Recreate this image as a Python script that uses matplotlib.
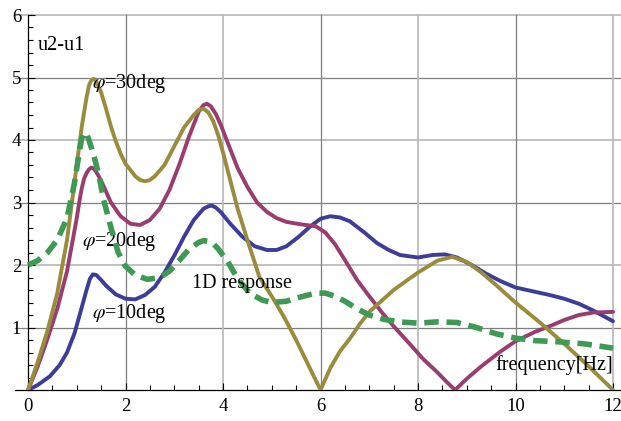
import numpy as np
import matplotlib.pyplot as plt

plt.rcParams['font.family'] = ['Liberation Serif', 'DejaVu Serif']
plt.rcParams['mathtext.fontset'] = 'stix'

# phi = 10 deg
f10 = [0, 0.2, 0.45, 0.65, 0.8, 0.95, 1.07, 1.2, 1.27, 1.33, 1.4, 1.5, 1.6, 1.8, 2.0, 2.2, 2.4,
       2.6, 2.8, 3.0, 3.2, 3.4, 3.6, 3.7, 3.77, 3.85, 3.95, 4.15, 4.4, 4.65, 4.9, 5.1, 5.3, 5.55,
       5.78, 6.0, 6.2, 6.4, 6.6, 6.9, 7.16, 7.4, 7.63, 8.0, 8.3, 8.55, 8.8, 9.1, 9.4, 9.7, 10.0,
       10.35, 10.7, 11.0, 11.3, 11.6, 12.0]
u10 = [0, 0.08, 0.22, 0.4, 0.6, 0.9, 1.23, 1.6, 1.78, 1.85, 1.84, 1.76, 1.67, 1.53, 1.46, 1.45,
       1.52, 1.65, 1.88, 2.15, 2.45, 2.72, 2.9, 2.94, 2.95, 2.92, 2.85, 2.66, 2.45, 2.3, 2.24,
       2.24, 2.3, 2.45, 2.61, 2.74, 2.78, 2.76, 2.7, 2.52, 2.35, 2.24, 2.16, 2.12, 2.16, 2.17,
       2.12, 2.0, 1.86, 1.74, 1.64, 1.58, 1.52, 1.46, 1.38, 1.27, 1.1]

# phi = 20 deg
f20 = [0, 0.2, 0.4, 0.6, 0.8, 1.0, 1.05, 1.1, 1.15, 1.2, 1.25, 1.3, 1.35, 1.4, 1.5, 1.7, 1.9,
       2.1, 2.3, 2.5, 2.7, 2.9, 3.1, 3.3, 3.5, 3.6, 3.67, 3.75, 3.85, 3.95, 4.1, 4.3, 4.5, 4.7,
       4.9, 5.1, 5.3, 5.6, 5.9, 6.1, 6.3, 6.5, 6.75, 7.0, 7.25, 7.5, 7.85, 8.1, 8.4, 8.6, 8.76,
       9.0, 9.3, 9.7, 10.0, 10.4, 10.7, 11.0, 11.3, 11.6, 12.0]
u20 = [0, 0.38, 0.82, 1.3, 1.9, 2.75, 3.0, 3.22, 3.38, 3.47, 3.53, 3.56, 3.54, 3.49, 3.35, 3.0,
       2.78, 2.66, 2.64, 2.72, 2.9, 3.2, 3.6, 4.05, 4.45, 4.56, 4.58, 4.54, 4.42, 4.25, 3.95,
       3.55, 3.25, 3.0, 2.85, 2.75, 2.69, 2.65, 2.62, 2.52, 2.33, 2.08, 1.76, 1.5, 1.25, 1.02,
       0.72, 0.5, 0.28, 0.12, 0.0, 0.18, 0.38, 0.62, 0.78, 0.93, 1.02, 1.12, 1.2, 1.24, 1.25]

# phi = 30 deg
f30 = [0, 0.2, 0.4, 0.6, 0.8, 1.0, 1.1, 1.2, 1.25, 1.3, 1.35, 1.4, 1.5, 1.6, 1.7, 1.8, 1.9,
       2.0, 2.2, 2.3, 2.4, 2.5, 2.6, 2.8, 3.0, 3.2, 3.4, 3.5, 3.6, 3.7, 3.8, 3.9, 4.0, 4.1, 4.3,
       4.5, 4.75, 5.0, 5.25, 5.5, 5.75, 6.0, 6.2, 6.4, 6.6, 6.8, 7.0, 7.5, 8.0, 8.4, 8.7, 9.0,
       9.3, 9.6, 10.0, 10.5, 11.0, 11.5, 12.0]
u30 = [0, 0.45, 0.95, 1.55, 2.4, 3.6, 4.2, 4.68, 4.87, 4.96, 4.98, 4.94, 4.76, 4.5, 4.22, 3.98,
       3.78, 3.62, 3.42, 3.36, 3.34, 3.36, 3.42, 3.6, 3.9, 4.2, 4.4, 4.48, 4.5, 4.44, 4.3, 4.08,
       3.8, 3.5, 2.9, 2.4, 1.8, 1.5, 1.17, 0.8, 0.4, 0.0, 0.35, 0.62, 0.82, 1.05, 1.25, 1.6, 1.88,
       2.07, 2.13, 2.05, 1.88, 1.68, 1.4, 1.08, 0.74, 0.38, 0.0]

# 1D response
f1d = [0, 0.2, 0.4, 0.6, 0.8, 0.95, 1.05, 1.1, 1.15, 1.2, 1.25, 1.35, 1.45, 1.55, 1.7, 1.85,
       2.0, 2.2, 2.45, 2.7, 2.9, 3.1, 3.3, 3.5, 3.6, 3.7, 3.8, 3.9, 4.1, 4.3, 4.55, 4.8, 5.0,
       5.3, 5.6, 5.9, 6.1, 6.3, 6.5, 6.75, 7.0, 7.3, 7.6, 8.0, 8.4, 8.8, 9.2, 9.6, 10.0, 10.4,
       10.9, 11.4, 12.0]
u1d = [2.0, 2.07, 2.2, 2.4, 2.75, 3.3, 3.8, 4.02, 4.12, 4.1, 4.0, 3.75, 3.45, 3.05, 2.6, 2.2,
       1.98, 1.84, 1.77, 1.8, 1.9, 2.07, 2.25, 2.36, 2.39, 2.38, 2.34, 2.26, 2.05, 1.78, 1.55,
       1.44, 1.4, 1.42, 1.49, 1.55, 1.55, 1.5, 1.42, 1.3, 1.2, 1.13, 1.09, 1.07, 1.09, 1.08,
       1.0, 0.9, 0.83, 0.79, 0.77, 0.74, 0.67]

fig = plt.figure(figsize=(6.21, 4.21), dpi=100)
ax = fig.add_axes([15 / 621, 1 - 390 / 421, 606 / 621, 375 / 421])

for v in [1, 2, 3, 4, 5, 6]:
    ax.axhline(v, color='#7f7f7f' if v % 2 else '#bcbcbc', lw=0.9 if v % 2 else 1.3,
               zorder=1, clip_on=False)
for v in [2, 4, 6, 8, 10, 12]:
    ax.plot([v, v], [0, 6], color='#7f7f7f' if v % 4 else '#bcbcbc',
            lw=0.9 if v % 4 else 1.3, zorder=1, clip_on=False)

style = dict(lw=2.8, zorder=3, solid_joinstyle='round', solid_capstyle='round')
ax.plot(f10, u10, color='#3d3d99', **style)
ax.plot(f20, u20, color='#993d71', **style)
ax.plot(f30, u30, color='#998c3d', **style)
ax.plot(f1d, u1d, color='#3d9954', lw=4.0, dashes=(2.6, 1.4), zorder=4,
        dash_joinstyle='round')

ax.set_xlim(-0.267, 12.164)
ax.set_ylim(0, 6)

ax.spines['top'].set_visible(False)
ax.spines['right'].set_visible(False)
ax.spines['left'].set_position(('data', 0))
ax.spines['left'].set_bounds(0, 6)
for s in ['left', 'bottom']:
    ax.spines[s].set_linewidth(0.9)
    ax.spines[s].set_zorder(2)

ax.set_xticks([0, 2, 4, 6, 8, 10, 12])
ax.set_xticks(np.arange(0, 12.01, 0.5), minor=True)
ax.set_yticks([1, 2, 3, 4, 5, 6])
ax.set_yticks(np.arange(0, 6.01, 0.2), minor=True)
ax.tick_params(which='both', direction='in', labelsize=13.5, width=0.8)
ax.tick_params(which='major', length=5)
ax.tick_params(which='minor', length=3.5)
ax.tick_params(axis='x', pad=6)
ax.tick_params(axis='y', pad=5)

ax.text(0.2, 5.52, 'u2-u1', fontsize=14.5, va='center')
ax.text(1.31, 4.91, r'$\varphi$=30deg', fontsize=14.5, va='center')
ax.text(1.11, 2.37, r'$\varphi$=20deg', fontsize=14.5, va='center')
ax.text(1.31, 1.23, r'$\varphi$=10deg', fontsize=14.5, va='center')
ax.text(3.36, 1.70, '1D response', fontsize=14.5, va='center', zorder=5)
ax.text(12.0, 0.4, 'frequency[Hz]', fontsize=14.5, va='center', ha='right', zorder=5)

fig.savefig('out.png', dpi=100)
